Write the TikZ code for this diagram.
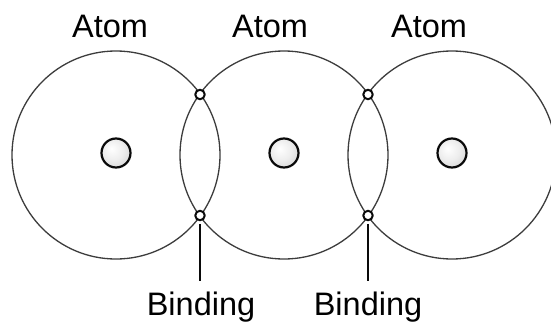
\documentclass[tikz,border=0pt]{standalone}
\usepackage{fontspec}
\setmainfont{Liberation Sans}
\usetikzlibrary{positioning,calc}
\definecolor{atedge}{RGB}{60,60,60}
\definecolor{atink}{RGB}{10,10,10}
\pgfdeclareradialshading{nucshade}{\pgfpoint{-8bp}{8bp}}{%
  color(0bp)=(white); color(18bp)=(black!7); color(38bp)=(black!20); color(50bp)=(black!30)}
\tikzset{
  shell/.style={
    circle, draw=atedge, line width=1.3pt, minimum size=208pt, inner sep=0pt
  },
  nucleus/.style={
    circle, draw=atink, line width=2.2pt, minimum size=29pt, inner sep=0pt,
    shading=nucshade
  },
  bond/.style={
    circle, draw=atink, line width=2pt, fill=white, minimum size=9.5pt, inner sep=0pt
  },
  stem/.style={draw=atink, line width=1.8pt, shorten <=2.5pt},
  lbl/.style={font=\fontsize{32.5}{36}\selectfont, anchor=base, inner sep=0pt},
  every picture/.append style={line join=round}
}
\begin{document}
\begin{tikzpicture}[x=1pt,y=-1pt]
  \useasboundingbox[fill=white] (0,0) rectangle (551,324);
  \clip (0,0) rectangle (551,324);
  % shells
  \node[shell] (shA) at (116,155) {};
  \node[shell] (shB) at (284,155) {};
  \node[shell] (shC) at (452,155) {};
  % nuclei
  \node[nucleus] (nuA) at (116,153) {};
  \node[nucleus] (nuB) at (284,153) {};
  \node[nucleus] (nuC) at (452,153) {};
  % bonding points
  \node[bond] (upAB) at (200,94.5) {};
  \node[bond] (loAB) at (200,215.5) {};
  \node[bond] (upBC) at (368,94.5) {};
  \node[bond] (loBC) at (368,215.5) {};
  % labels
  \node[lbl] (lbA) at (110,37) {Atom};
  \node[lbl] (lbB) at (270,37) {Atom};
  \node[lbl] (lbC) at (429,37) {Atom};
  \node[lbl] (bdAB) at (201,315) {Binding};
  \node[lbl] (bdBC) at (368,315) {Binding};
  \coordinate (endAB) at (200,281);
  \coordinate (endBC) at (368,281);
  \draw[stem] (loAB.south) -- (endAB);
  \draw[stem] (loBC.south) -- (endBC);
\end{tikzpicture}
\end{document}
